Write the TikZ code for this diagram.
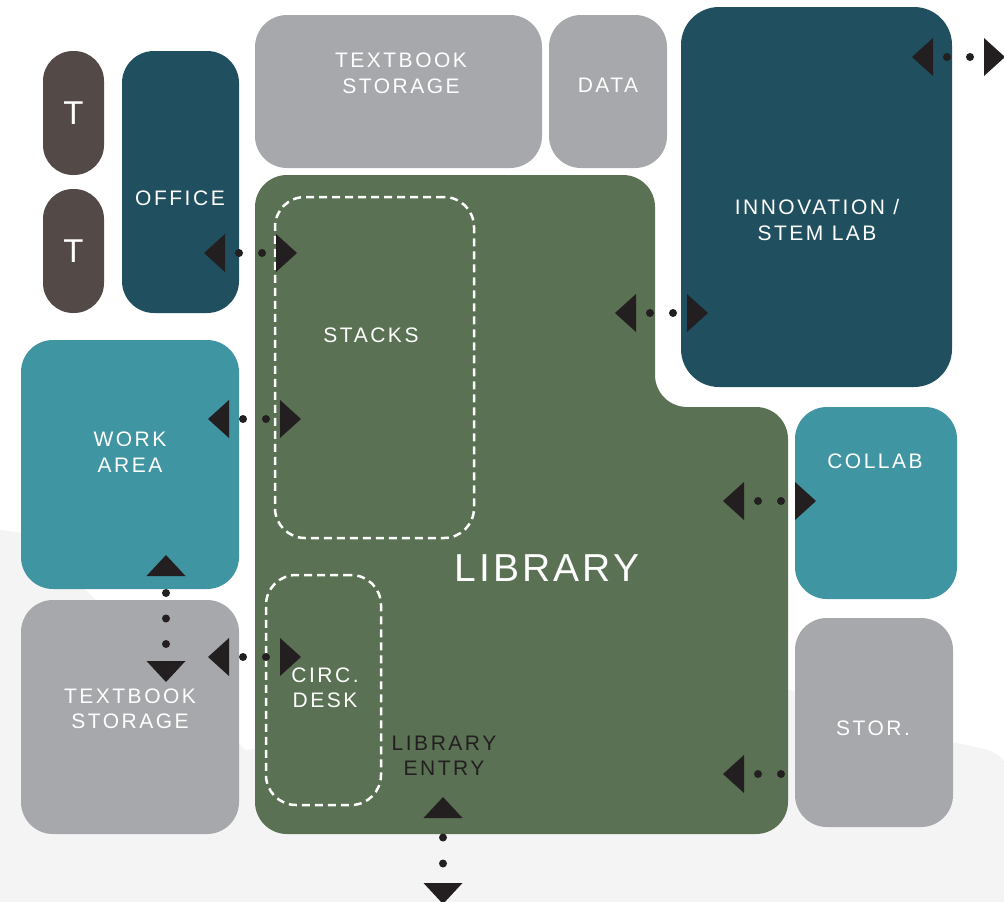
\documentclass[tikz,border=0pt]{standalone}
\usepackage{fontspec}
\newfontfamily\lblfont{Liberation Sans}[LetterSpace=12]
\newfontfamily\bigfont{Liberation Sans}[LetterSpace=8]
\definecolor{navy}{HTML}{20505F}
\definecolor{teal2}{HTML}{4095A2}
\definecolor{grey2}{HTML}{A7A8AB}
\definecolor{green2}{HTML}{5A7153}
\definecolor{brown2}{HTML}{534947}
\definecolor{ink}{HTML}{231F20}
\definecolor{mist}{HTML}{F4F4F4}
\tikzset{
  room/.style={rectangle, rounded corners=32pt, inner sep=0pt, draw=none},
  pill/.style={rectangle, rounded corners=30pt, inner sep=0pt, draw=none, fill=brown2, minimum width=61pt, minimum height=124pt},
  zone/.style={rectangle, rounded corners=30pt, inner sep=0pt, draw=white, line width=2.5pt, dash pattern=on 8pt off 5pt},
  lbl/.style={text=white, font=\lblfont\fontsize{21}{25.5}\selectfont, align=center, inner sep=0pt},
  hdbl/.pic={
    \fill[ink] (-46.5,0) -- (-25.5,-19) -- (-25.5,19) -- cycle;
    \fill[ink] (46.5,0) -- (25.5,-19) -- (25.5,19) -- cycle;
    \fill[ink] (-11.5,0) circle[radius=4];
    \fill[ink] (11.5,0) circle[radius=4];
  },
  hleft/.pic={
    \fill[ink] (-46.5,0) -- (-25.5,-19) -- (-25.5,19) -- cycle;
    \fill[ink] (-11.5,0) circle[radius=4];
    \fill[ink] (11.5,0) circle[radius=4];
  },
  vtri/.pic={
    \fill[ink] (0,-63.5) -- (-19.5,-42.5) -- (19.5,-42.5) -- cycle;
    \fill[ink] (0,63.5) -- (-19.5,42.5) -- (19.5,42.5) -- cycle;
    \fill[ink] (0,-25.5) circle[radius=4];
    \fill[ink] (0,0) circle[radius=4];
    \fill[ink] (0,25.5) circle[radius=4];
  },
  ventry/.pic={
    \fill[ink] (0,-53.5) -- (-19.5,-32.5) -- (19.5,-32.5) -- cycle;
    \fill[ink] (0,53.5) -- (-19.5,32.5) -- (19.5,32.5) -- cycle;
    \fill[ink] (0,-13) circle[radius=4];
    \fill[ink] (0,13) circle[radius=4];
  }
}
\begin{document}
\begin{tikzpicture}[x=1pt,y=-1pt]
\useasboundingbox (0,0) rectangle (1004,902);
\fill[white] (0,0) rectangle (1004,902);
% faint background
\fill[mist] (0,530) -- (30,534) -- (245,750) -- (790,690) -- (950,742) .. controls (985,748) and (1000,752) .. (1004,762) -- (1004,902) -- (0,902) -- cycle;

% rooms
\node[pill] (t1) at (73.5,113) {};
\node[pill] (t2) at (73.5,251) {};
\node[room, fill=navy, minimum width=117pt, minimum height=262pt] (office) at (180.5,182) {};
\node[room, fill=grey2, minimum width=287pt, minimum height=153pt] (tbtop) at (398.5,91.5) {};
\node[room, fill=grey2, minimum width=118pt, minimum height=153pt] (data) at (608,91.5) {};
\node[room, fill=navy, minimum width=271pt, minimum height=380pt, rounded corners=38pt] (innov) at (816.5,197) {};
\node[room, fill=teal2, minimum width=218pt, minimum height=249pt] (work) at (130,464.5) {};
\node[room, fill=grey2, minimum width=218pt, minimum height=234pt] (tbbot) at (130,717) {};
\node[room, fill=teal2, minimum width=162pt, minimum height=192pt] (collab) at (876,503) {};
\node[room, fill=grey2, minimum width=158pt, minimum height=209pt] (stor) at (874,722.5) {};

% library (L-shape)
\fill[green2, rounded corners=32pt] (255,834) -- (255,175) -- (655,175) -- (655,407) -- (788,407) -- (788,834) -- cycle;
\coordinate (library) at (547,568);

% dashed zones
\node[zone, minimum width=199pt, minimum height=341pt] (stacks) at (374.5,367.5) {};
\node[zone, minimum width=115pt, minimum height=230pt] (circ) at (323.5,690) {};

% labels
\node[lbl, font=\lblfont\fontsize{33}{33}\selectfont] (t1l) at (t1) {T};
\node[lbl, font=\lblfont\fontsize{33}{33}\selectfont] (t2l) at (t2) {T};
\node[lbl] (officel) at (180,198) {OFFICE};
\node[lbl] (tbtopl) at (401,73.5) {TEXTBOOK\\STORAGE};
\node[lbl] (datal) at (608,85) {DATA};
\node[lbl] (innovl) at (817,220) {INNOVATION /\\STEM LAB};
\node[lbl] (stacksl) at (371,335) {STACKS};
\node[lbl] (workl) at (130,452) {WORK\\AREA};
\node[lbl, font=\bigfont\fontsize{39}{39}\selectfont] (libl) at (library) {LIBRARY};
\node[lbl] (circl) at (325,688) {CIRC.\\DESK};
\node[lbl] (tbbotl) at (130,709) {TEXTBOOK\\STORAGE};
\node[lbl, text=ink] (entryl) at (444,756) {LIBRARY\\ENTRY};
\node[lbl] (collabl) at (875,461) {COLLAB};
\node[lbl] (storl) at (873,728) {STOR.};

% connectors
\coordinate (c1) at (250.5,253);
\coordinate (c2) at (254.5,419);
\coordinate (c3) at (661.5,313);
\coordinate (c4) at (958.5,57);
\coordinate (c5) at (769.5,501);
\coordinate (c6) at (769.5,774);
\coordinate (c7) at (254.5,657);
\coordinate (c8) at (166,618.5);
\coordinate (c9) at (443,850.5);
\pic at (c1) {hdbl};
\pic at (c2) {hdbl};
\pic at (c3) {hdbl};
\pic at (c4) {hdbl};
\pic at (c5) {hdbl};
\pic at (c6) {hleft};
\pic at (c7) {hdbl};
\pic at (c8) {vtri};
\pic at (c9) {ventry};
\end{tikzpicture}
\end{document}
